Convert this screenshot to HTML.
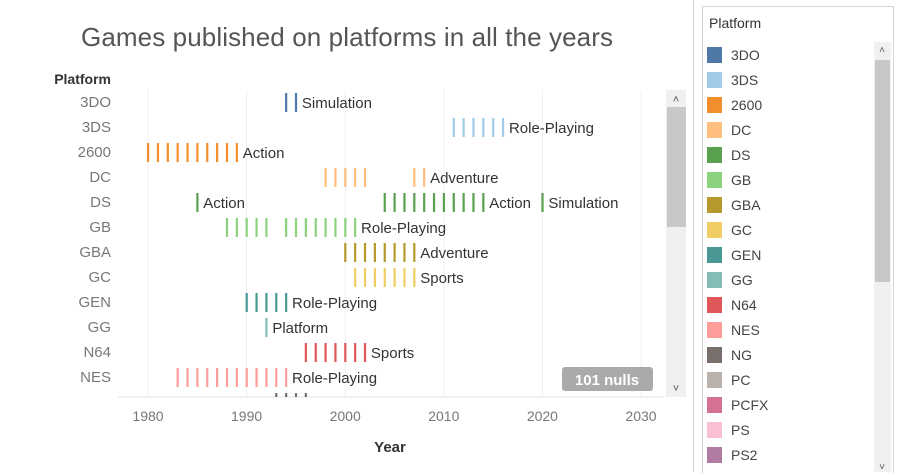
<!DOCTYPE html>
<html><head><meta charset="utf-8"><style>
body{margin:0;width:900px;height:472px;background:#fff;font-family:"Liberation Sans",sans-serif;overflow:hidden;position:relative}
</style></head><body>
<div style="position:absolute;left:0;top:0;width:693px;height:472px;border-right:1px solid #d4d4d4"></div>
<div style="position:absolute;left:702px;top:6px;width:190px;height:466px;border:1px solid #d4d4d4;border-bottom:none;background:#fff"></div>
<svg id="svg" width="900" height="472" style="position:absolute;left:0;top:0" font-family="Liberation Sans, sans-serif">
<text x="347" y="46" text-anchor="middle" font-size="26" textLength="532" fill="#555">Games published on platforms in all the years</text>
<text x="111" y="84" text-anchor="end" font-size="14" font-weight="bold" fill="#333">Platform</text>
<text x="390" y="452" text-anchor="middle" font-size="15" font-weight="bold" fill="#333">Year</text>
<g id="grid"></g><g id="marks"></g><g id="ylabels"></g><g id="xlabels"></g>
<rect x="666" y="90" width="20" height="307" fill="#f0f0f0"/>
<rect x="667" y="107" width="19" height="120" fill="#c8c8c8"/>
<text x="676" y="103" text-anchor="middle" font-size="11" fill="#555">˄</text>
<text x="676" y="392" text-anchor="middle" font-size="11" fill="#555">˅</text>
<g><rect x="562" y="367" width="91" height="24" rx="3" fill="#aaa"/>
<text x="607" y="385" text-anchor="middle" font-size="15" font-weight="bold" fill="#fff">101 nulls</text></g>
<text x="709" y="28" font-size="14" fill="#333">Platform</text>
<g id="legend"></g>
<rect x="874" y="42" width="17" height="430" fill="#f0f0f0"/>
<rect x="875" y="60" width="15" height="222" fill="#c8c8c8"/>
<text x="882" y="53" text-anchor="middle" font-size="10" fill="#555">˄</text>
<text x="882" y="470" text-anchor="middle" font-size="10" fill="#555">˅</text>
</svg>
<script>
const platforms=["3DO","3DS","2600","DC","DS","GB","GBA","GC","GEN","GG","N64","NES","NG"];
const colors=["#4e79a7","#a0cbe8","#f28e2b","#ffbe7d","#59a14f","#8cd17d","#b6992d","#f1ce63","#499894","#86bcb6","#e15759","#ff9d9a","#79706e"];
const years=[[1994,1995],[2011,2012,2013,2014,2015,2016],[1980,1981,1982,1983,1984,1985,1986,1987,1988,1989],[1998,1999,2000,2001,2002,2007,2008],[1985,2004,2005,2006,2007,2008,2009,2010,2011,2012,2013,2014,2020],[1988,1989,1990,1991,1992,1994,1995,1996,1997,1998,1999,2000,2001],[2000,2001,2002,2003,2004,2005,2006,2007],[2001,2002,2003,2004,2005,2006,2007],[1990,1991,1992,1993,1994],[1992],[1996,1997,1998,1999,2000,2001,2002],[1983,1984,1985,1986,1987,1988,1989,1990,1991,1992,1993,1994],[1993,1994,1995,1996]];
const labels=[[[1995,"Simulation"]],[[2016,"Role-Playing"]],[[1989,"Action"]],[[2008,"Adventure"]],[[1985,"Action"],[2014,"Action"],[2020,"Simulation"]],[[2001,"Role-Playing"]],[[2007,"Adventure"]],[[2007,"Sports"]],[[1994,"Role-Playing"]],[[1992,"Platform"]],[[2002,"Sports"]],[[1994,"Role-Playing"]],[[1996,"Fighting"]]];
const xTicks=[1980,1990,2000,2010,2020,2030];
const legendNames=["3DO","3DS","2600","DC","DS","GB","GBA","GC","GEN","GG","N64","NES","NG","PC","PCFX","PS","PS2","PS3"];
const legendColors=["#4e79a7","#a0cbe8","#f28e2b","#ffbe7d","#59a14f","#8cd17d","#b6992d","#f1ce63","#499894","#86bcb6","#e15759","#ff9d9a","#79706e","#bab0ac","#d37295","#fabfd2","#b07aa1","#9d7660"];
const NS="http://www.w3.org/2000/svg";
const x=y=>148+(y-1980)*9.86;
const yr=i=>102+i*25;
function mk(t,a,p){const e=document.createElementNS(NS,t);for(const k in a)e.setAttribute(k,a[k]);p.appendChild(e);return e;}
const grid=document.getElementById('grid'),marks=document.getElementById('marks'),yl=document.getElementById('ylabels'),xl=document.getElementById('xlabels'),lg=document.getElementById('legend');
mk('rect',{x:118,y:90,width:546,height:307,fill:'#fff'},grid);
xTicks.forEach(t=>{mk('line',{x1:x(t),x2:x(t),y1:90,y2:397,stroke:'#efefef'},grid);
const e=mk('text',{x:x(t),y:421,'text-anchor':'middle','font-size':14,fill:'#777'},xl);e.textContent=t;

});
mk('line',{x1:118,x2:664,y1:397,y2:397,stroke:'#e6e6e6'},grid);
const clip=mk('clipPath',{id:'cp'},marks);mk('rect',{x:118,y:90,width:546,height:307},clip);
const mg=mk('g',{'clip-path':'url(#cp)'},marks);
platforms.forEach((p,i)=>{
if(yr(i)<400){const t=mk('text',{x:111,y:yr(i)+5,'text-anchor':'end','font-size':15,fill:'#777'},yl);t.textContent=p;

}
years[i].forEach(v=>{const r=mk('rect',{x:x(v)-1,y:yr(i)-9,width:2.2,height:19,fill:colors[i]},mg);

});
labels[i].forEach(([v,s])=>{const t=mk('text',{x:x(v)+6,y:yr(i)+6,'font-size':15,fill:'#333'},mg);t.textContent=s;

});
});
legendNames.forEach((n,i)=>{const g=mk('g',{},lg);


mk('rect',{x:707,y:47+i*25,width:15,height:16,fill:legendColors[i]},g);
const t=mk('text',{x:731,y:60+i*25,'font-size':14,fill:'#444'},g);t.textContent=n;});
</script>
</body></html>
